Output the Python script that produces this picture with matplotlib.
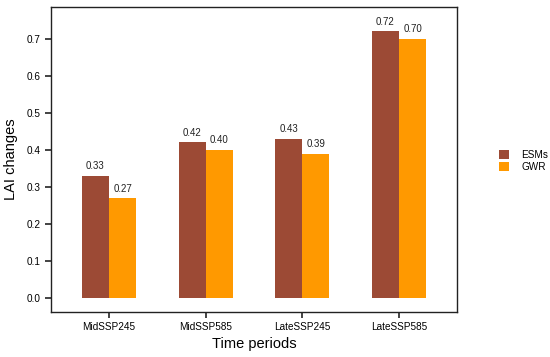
import numpy as np
import matplotlib.pyplot as plt

plt.rcParams['font.family'] = ['Liberation Sans', 'DejaVu Sans']

periods = ["MidSSP245", "MidSSP585", "LateSSP245", "LateSSP585"]
esms = [0.33, 0.42, 0.43, 0.72]
gwr = [0.27, 0.40, 0.39, 0.70]
series_names = ["ESMs", "GWR"]
colors = ["#9C4A35", "#FF9900"]

fig = plt.figure(figsize=(5.5, 3.57), dpi=100)
ax = fig.add_axes([51 / 550, 1 - 312 / 357, (457 - 51) / 550, (312 - 7) / 357])

x = np.arange(len(periods))
w = 0.28
for vals, off, c, name in [(esms, -w / 2, colors[0], series_names[0]), (gwr, w / 2, colors[1], series_names[1])]:
    bars = ax.bar(x + off, vals, width=w, color=c, label=name)
    for b, v in zip(bars, vals):
        ax.text(b.get_x() + b.get_width() / 2, v + 0.012, f"{v:.2f}",
                ha='center', va='bottom', fontsize=7, color='#222222')

ax.set_xlim(-0.6, 3.6)
ax.set_ylim(-0.038, 0.786)
ax.set_yticks(np.arange(0, 0.71, 0.1))
ax.set_yticklabels([f"{t:.1f}" for t in np.arange(0, 0.71, 0.1)])
ax.set_xticks(x)
ax.set_xticklabels(periods)
ax.tick_params(axis='both', labelsize=7.2, length=4, width=1.2, direction='out', color='#222222')
for s in ax.spines.values():
    s.set_linewidth(1.0)
    s.set_color('#222222')

ax.set_xlabel("Time periods", fontsize=10.5, labelpad=3)
ax.set_ylabel("LAI changes", fontsize=10.5, labelpad=6)

ax.legend(loc='center left', bbox_to_anchor=(1.09, 0.495), frameon=False,
          fontsize=7.2, handlelength=1.0, handleheight=1.0, handletextpad=1.3,
          labelspacing=0.2, borderpad=0)

fig.savefig("out.png", dpi=100)
